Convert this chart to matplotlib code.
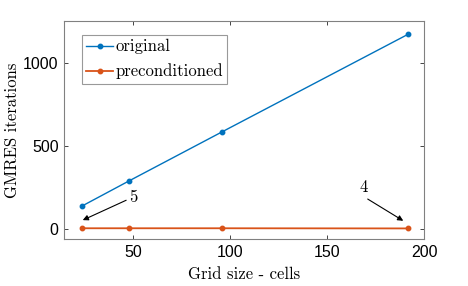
import matplotlib
matplotlib.use('Agg')
import matplotlib.pyplot as plt

plt.rcParams['font.family'] = ['Liberation Sans', 'DejaVu Sans']
plt.rcParams['axes.formatter.use_mathtext'] = False

# Data
grid = [24, 48, 96, 192]
original = [140, 290, 586, 1175]
precond = [5, 5, 5, 4]

blue = '#0072BD'
orange = '#D95319'
axcol = '#262626'
serif = 'cmr10'

fig = plt.figure(figsize=(4.68, 2.86), dpi=100)
ax = fig.add_axes([0.137, 0.163, 0.769, 0.762])

ax.plot(grid, original, '-', color=blue, lw=1.0, marker='o', ms=3.2,
        label='original')
ax.plot(grid, precond, '-', color=orange, lw=1.3, marker='o', ms=3.2,
        label='preconditioned')

ax.annotate('5', xy=(24.2, 54), xytext=(48, 193), fontsize=12,
            family=serif, ha='left', va='center',
            arrowprops=dict(arrowstyle='-|>', color='black', lw=0.8,
                            mutation_scale=8, shrinkA=0, shrinkB=0))
ax.annotate('', xy=(189.3, 50), xytext=(171, 181),
            arrowprops=dict(arrowstyle='-|>', color='black', lw=0.8,
                            mutation_scale=8, shrinkA=0, shrinkB=0))
ax.text(169, 250, '4', fontsize=12, family=serif, ha='center', va='center')

ax.set_xlim(14.6, 200)
ax.set_ylim(-62, 1251)
ax.set_xticks([50, 100, 150, 200])
ax.set_yticks([0, 500, 1000])

ax.set_xlabel('Grid size - cells', fontsize=12, family=serif, labelpad=5)
ax.set_ylabel('GMRES iterations', fontsize=12, family=serif, labelpad=2)

ax.tick_params(direction='in', top=True, right=True, length=3, width=0.6,
               colors=axcol, labelsize=11.5, labelcolor='black', pad=4)
for s in ax.spines.values():
    s.set_color('#808080')
    s.set_linewidth(0.8)

leg = ax.legend(loc='upper left', bbox_to_anchor=(0.05, 0.938),
                prop={'family': serif, 'size': 12},
                frameon=True, fancybox=False, handlelength=1.6,
                handletextpad=0.15, borderpad=0.25, labelspacing=0.55,
                borderaxespad=0)
leg.get_frame().set_edgecolor('#808080')
leg.get_frame().set_linewidth(0.8)

fig.savefig('out.png', dpi=100)
